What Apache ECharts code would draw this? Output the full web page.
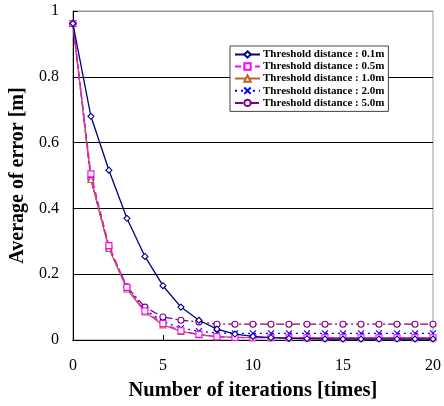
<!DOCTYPE html>
<html>
<head>
<meta charset="utf-8">
<script src="https://cdn.jsdelivr.net/npm/echarts@6/dist/echarts.min.js"></script>
<style>
  html, body { margin: 0; padding: 0; background: #fff; }
  #chart { width: 444px; height: 406px; }
</style>
</head>
<body>
<div id="chart"></div>
<script>
const iterations = [0,1,2,3,4,5,6,7,8,9,10,11,12,13,14,15,16,17,18,19,20];

const seriesNames = [
  'Threshold distance : 0.1m',
  'Threshold distance : 0.5m',
  'Threshold distance : 1.0m',
  'Threshold distance : 2.0m',
  'Threshold distance : 5.0m'
];

const err01 = [0.962,0.68,0.516,0.37,0.254,0.165,0.10,0.06,0.033,0.018,0.011,0.007,0.005,0.004,0.003,0.003,0.003,0.003,0.003,0.003,0.003];
const err05 = [0.962,0.505,0.287,0.16,0.088,0.05,0.028,0.017,0.01,0.008,0.007,0.007,0.007,0.007,0.007,0.007,0.007,0.007,0.007,0.007,0.007];
const err10 = [0.962,0.488,0.278,0.155,0.085,0.046,0.026,0.016,0.01,0.008,0.007,0.007,0.007,0.007,0.007,0.007,0.007,0.007,0.007,0.007,0.007];
const err20 = [0.962,0.49,0.28,0.158,0.092,0.056,0.036,0.027,0.021,0.02,0.02,0.02,0.02,0.02,0.02,0.02,0.02,0.02,0.02,0.02,0.02];
const err50 = [0.962,0.49,0.28,0.162,0.10,0.07,0.06,0.055,0.048,0.048,0.048,0.048,0.048,0.048,0.048,0.048,0.048,0.048,0.048,0.048,0.048];

const yTicks = [0, 0.2, 0.4, 0.6, 0.8, 1];

const serif = 'Liberation Serif';

const styles = [
  { color: '#000080', symbol: 'diamond', type: 'solid' },
  { color: '#ff00ff', symbol: 'rect', type: [6, 4] },
  { color: '#b5652e', symbol: 'triangle', type: 'solid' },
  { color: '#0000ff', symbol: 'path://M0,0L10,10M10,0L0,10', type: [2, 4] },
  { color: '#800080', symbol: 'circle', type: [8, 3, 2, 3] }
];

const values = [err01, err05, err10, err20, err50];

const series = values.map((vals, i) => ({
  name: seriesNames[i],
  type: 'line',
  data: iterations.map((x, j) => [x, vals[j]]),
  symbol: styles[i].symbol,
  symbolSize: 6,
  showAllSymbol: true,
  lineStyle: { color: styles[i].color, width: 1.3, type: styles[i].type },
  itemStyle: {
    color: i === 3 ? 'none' : '#fff',
    borderColor: styles[i].color,
    borderWidth: 1.1
  },
  z: 10 - i,
  silent: true
}));

const chart = echarts.init(document.getElementById('chart'), null, { renderer: 'canvas' });
chart.setOption({
  animation: false,
  backgroundColor: '#fff',
  textStyle: { fontFamily: serif },
  grid: {
    left: 72, right: 10, top: 11, bottom: 59,
    show: true, borderColor: '#999', borderWidth: 1
  },
  legend: {
    orient: 'vertical',
    left: 230, top: 46,
    itemGap: 1,
    itemWidth: 25,
    itemHeight: 8,
    padding: [3, 4, 3, 4],
    borderColor: '#444',
    borderWidth: 1,
    backgroundColor: '#fff',
    textStyle: { fontFamily: serif, fontWeight: 'bold', fontSize: 11, color: '#000', padding: [0, 0, 0, -2] },
    data: seriesNames
  },
  xAxis: {
    type: 'value',
    min: 0, max: 20, interval: 5,
    name: 'Number of iterations [times]',
    nameLocation: 'middle',
    nameGap: 40,
    nameTextStyle: { fontFamily: serif, fontWeight: 'bold', fontSize: 20.5, color: '#000' },
    axisLine: { show: true, lineStyle: { color: '#000', width: 1 } },
    axisTick: { show: true, inside: true, length: 5, lineStyle: { color: '#000' } },
    axisLabel: { fontFamily: serif, fontSize: 16, color: '#000', margin: 18 },
    splitLine: { show: false }
  },
  yAxis: {
    type: 'value',
    min: 0, max: 1, interval: 0.2,
    name: 'Average of error [m]',
    nameLocation: 'middle',
    nameGap: 44,
    nameTextStyle: { fontFamily: serif, fontWeight: 'bold', fontSize: 20, color: '#000' },
    axisLine: { show: true, lineStyle: { color: '#000', width: 1 } },
    axisTick: { show: true, inside: true, length: 5, lineStyle: { color: '#000' } },
    axisLabel: {
      fontFamily: serif, fontSize: 16, color: '#000', margin: 14, padding: [4, 0, 0, 0],
      formatter: v => String(yTicks.find(t => Math.abs(t - v) < 1e-9) ?? v)
    },
    splitLine: { show: true, lineStyle: { color: ['#000', '#000', '#000', '#000', '#000', '#999'], width: 1 } }
  },
  series: series
});
</script>
</body>
</html>
